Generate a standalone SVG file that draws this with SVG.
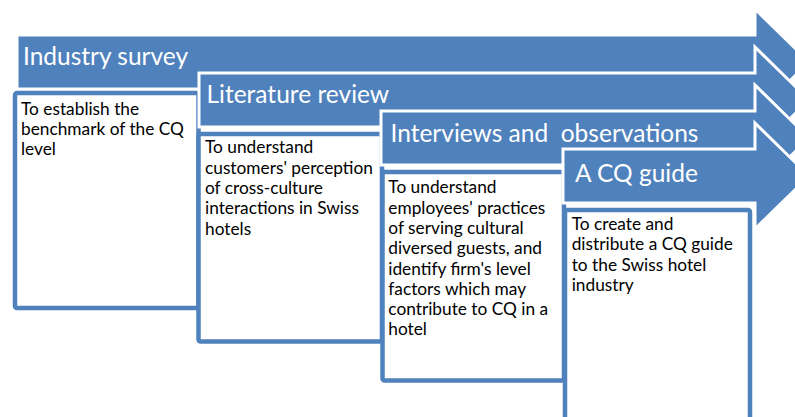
<svg xmlns="http://www.w3.org/2000/svg" width="795" height="417" viewBox="0 0 795 417">
  <style>
    .arrow { fill: #4F81BD; stroke: #FFFFFF; stroke-width: 3; stroke-linejoin: miter; }
    .box { fill: #FFFFFF; stroke: #4F81BD; stroke-width: 4.5; }
    .title { font-family: Lato, "Open Sans", "Liberation Sans", sans-serif; font-size: 24.5px; fill: #FFFFFF; white-space: pre; }
    .body { font-family: Lato, "Open Sans", "Liberation Sans", sans-serif; font-size: 17.3px; fill: #000000; }
  </style>
  <rect width="795" height="417" fill="#FFFFFF"/>

  <!-- Step 1 -->
  <g id="step-industry-survey">
    <path class="arrow" d="M17,35 H755 V9 L809,62 L755,115 V89 H17 Z"/>
    <rect class="box" x="15" y="93" width="183.5" height="215" rx="2"/>
    <text class="title" x="23" y="65">Industry survey</text>
    <text class="body">
      <tspan x="21" y="114.5">To establish the</tspan>
      <tspan x="21" y="134.8">benchmark of the CQ</tspan>
      <tspan x="21" y="155.1">level</tspan>
    </text>
  </g>

  <!-- Step 2 -->
  <g id="step-literature-review">
    <path class="arrow" d="M199,73 H755 V47 L809,100 L755,153 V127 H199 Z"/>
    <rect class="box" x="198.5" y="134" width="183.5" height="207.5" rx="2"/>
    <text class="title" x="206.5" y="103.3">Literature review</text>
    <text class="body">
      <tspan x="205" y="153.3">To understand</tspan>
      <tspan x="205" y="173.6">customers' perception</tspan>
      <tspan x="205" y="193.9">of cross-culture</tspan>
      <tspan x="205" y="214.2">interactions in Swiss</tspan>
      <tspan x="205" y="234.5">hotels</tspan>
    </text>
  </g>

  <!-- Step 3 -->
  <g id="step-interviews">
    <path class="arrow" d="M381,111 H755 V85 L809,138 L755,191 V165 H381 Z"/>
    <rect class="box" x="382.5" y="172" width="181.5" height="208.5" rx="2"/>
    <text class="title" x="390.5" y="141.7">Interviews and  observations</text>
    <text class="body">
      <tspan x="388.3" y="193.3">To understand</tspan>
      <tspan x="388.3" y="213.6">employees' practices</tspan>
      <tspan x="388.3" y="233.9">of serving cultural</tspan>
      <tspan x="388.3" y="254.2">diversed guests, and</tspan>
      <tspan x="388.3" y="274.5">identify firm's level</tspan>
      <tspan x="388.3" y="294.8">factors which may</tspan>
      <tspan x="388.3" y="315.1">contribute to CQ in a</tspan>
      <tspan x="388.3" y="335.4">hotel</tspan>
    </text>
  </g>

  <!-- Step 4 -->
  <g id="step-cq-guide">
    <path class="arrow" d="M563,149 H755 V123 L809,176 L755,229 V203 H563 Z"/>
    <rect class="box" x="565" y="210" width="185" height="212" rx="2"/>
    <text class="title" x="575" y="181.7">A CQ guide</text>
    <text class="body">
      <tspan x="571.7" y="230">To create and</tspan>
      <tspan x="571.7" y="250.3">distribute a CQ guide</tspan>
      <tspan x="571.7" y="270.6">to the Swiss hotel</tspan>
      <tspan x="571.7" y="290.9">industry</tspan>
    </text>
  </g>

  <g id="connectors"/>
</svg>
